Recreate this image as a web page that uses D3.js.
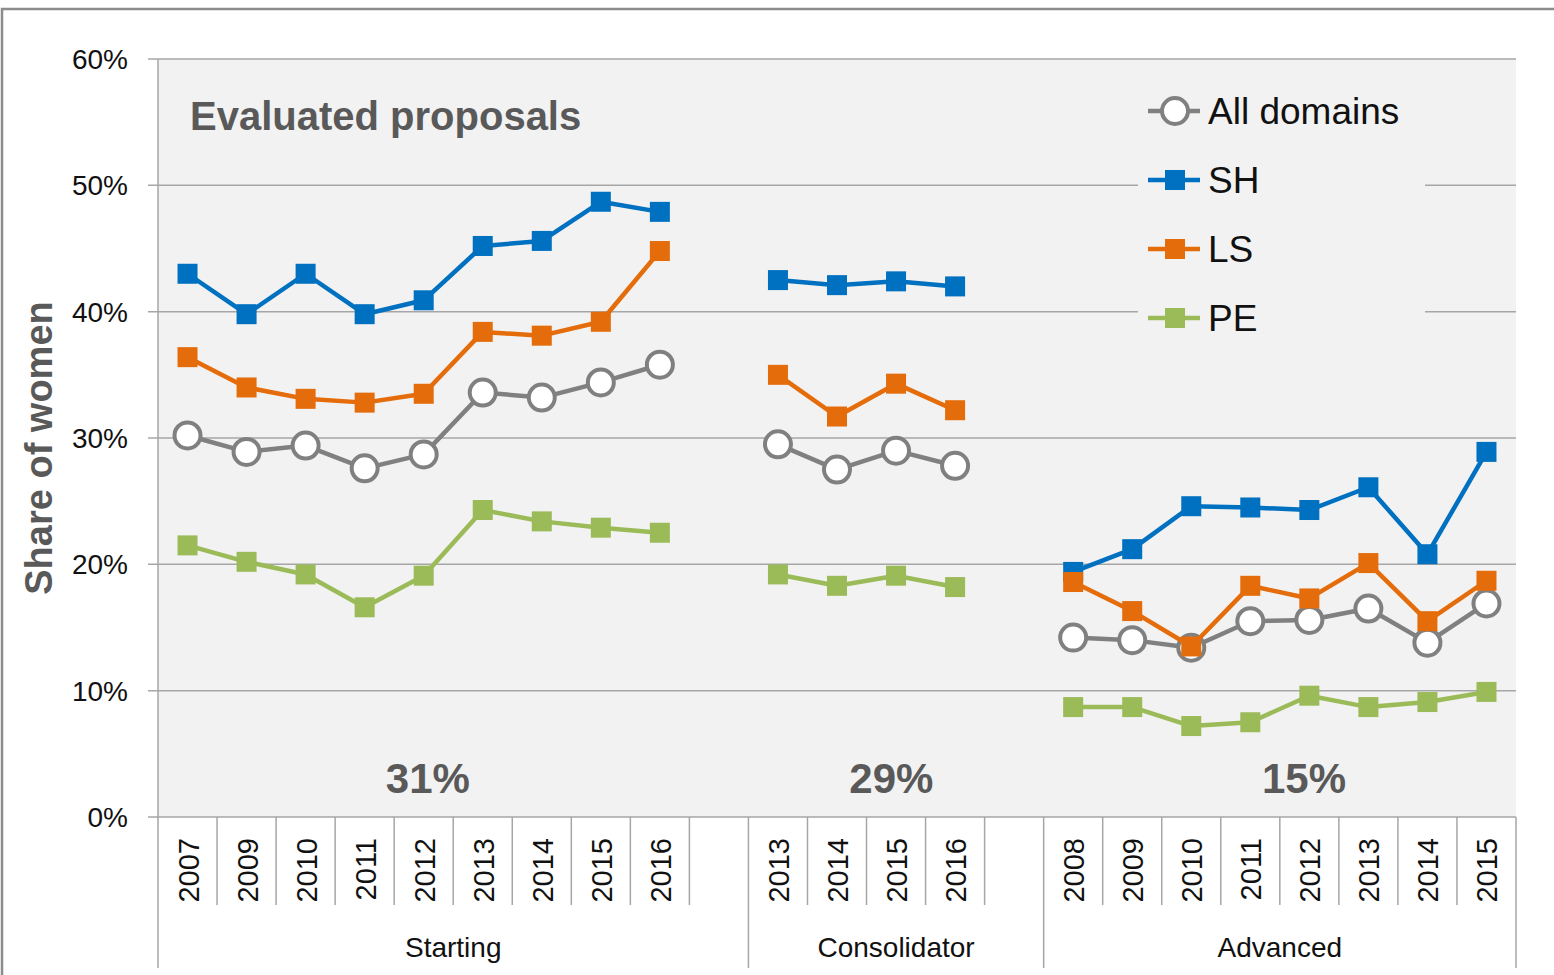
<!DOCTYPE html>
<html>
<head>
<meta charset="utf-8">
<script src="https://cdn.jsdelivr.net/npm/d3@7"></script>
<style>
  html, body { margin: 0; padding: 0; background: #fff; }
  svg { display: block; font-family: "Liberation Sans", Arial, sans-serif; }
</style>
</head>
<body>
<svg id="chart" width="1554" height="975"></svg>
<script>
// ---------- DATA ----------
const groups = ["Starting", "Consolidator", "Advanced"];
const startingYears = ["2007", "2009", "2010", "2011", "2012", "2013", "2014", "2015", "2016"];
const consolidatorYears = ["2013", "2014", "2015", "2016"];
const advancedYears = ["2008", "2009", "2010", "2011", "2012", "2013", "2014", "2015"];

const seriesNames = ["All domains", "SH", "LS", "PE"];

const allStarting = [30.2, 28.9, 29.4, 27.6, 28.7, 33.6, 33.2, 34.4, 35.8];
const shStarting  = [43.0, 39.8, 43.0, 39.8, 40.9, 45.2, 45.6, 48.7, 47.9];
const lsStarting  = [36.4, 34.0, 33.1, 32.8, 33.5, 38.4, 38.1, 39.2, 44.8];
const peStarting  = [21.5, 20.2, 19.2, 16.6, 19.1, 24.3, 23.4, 22.9, 22.5];

const allConsolidator = [29.5, 27.5, 29.0, 27.8];
const shConsolidator  = [42.5, 42.1, 42.4, 42.0];
const lsConsolidator  = [35.0, 31.7, 34.3, 32.2];
const peConsolidator  = [19.2, 18.3, 19.1, 18.2];

const allAdvanced = [14.2, 14.0, 13.4, 15.5, 15.6, 16.5, 13.8, 16.9];
const shAdvanced  = [19.4, 21.2, 24.6, 24.5, 24.3, 26.1, 20.8, 28.9];
const lsAdvanced  = [18.6, 16.3, 13.5, 18.3, 17.3, 20.1, 15.5, 18.7];
const peAdvanced  = [8.7, 8.7, 7.2, 7.5, 9.6, 8.7, 9.1, 9.9];

const groupShares = ["31%", "29%", "15%"];
const yTicks = [0, 10, 20, 30, 40, 50, 60];

// ---------- STYLE / LAYOUT ----------
const colors = { "All domains": "#808080", "SH": "#0070c0", "LS": "#e46c0a", "PE": "#9bbb59" };
const plot = { left: 158, right: 1516, top: 59, bottom: 817 };

const groupYears = [startingYears, consolidatorYears, advancedYears];
const groupValues = [
  [allStarting, shStarting, lsStarting, peStarting],
  [allConsolidator, shConsolidator, lsConsolidator, peConsolidator],
  [allAdvanced, shAdvanced, lsAdvanced, peAdvanced]
];
// each group gets a trailing empty slot except the last
const slots = [];
const groupSpans = [];
groupYears.forEach((yrs, gi) => {
  const start = slots.length;
  yrs.forEach(y => slots.push(groups[gi] + "|" + y));
  if (gi < groupYears.length - 1) slots.push(groups[gi] + "|blank");
  groupSpans.push([start, slots.length]);
});

const svg = d3.select("#chart");
const x = d3.scaleBand().domain(slots).range([plot.left, plot.right]).padding(0);
const bw = x.bandwidth();
const y = d3.scaleLinear().domain([0, 60]).range([plot.bottom, plot.top]);
const slotPos = i => plot.left + i * bw;

// outer border (top & left)
svg.append("path").attr("d", "M2,975 L2,9 L1554,9").attr("fill", "none")
  .attr("stroke", "#8c8c8c").attr("stroke-width", 2.5);

// plot background
svg.append("rect").attr("x", plot.left).attr("y", plot.top)
  .attr("width", plot.right - plot.left).attr("height", plot.bottom - plot.top)
  .attr("fill", "#f2f2f2");

// gridlines + ticks
svg.append("g").selectAll("line").data(yTicks).join("line")
  .attr("x1", plot.left - 10).attr("x2", plot.right)
  .attr("y1", d => y(d)).attr("y2", d => y(d))
  .attr("stroke", "#a6a6a6").attr("stroke-width", 1.5);

// y tick labels
svg.append("g").selectAll("text").data(yTicks).join("text")
  .attr("x", 128).attr("y", d => y(d) + 10)
  .attr("text-anchor", "end").attr("font-size", 28).attr("fill", "#111")
  .text(d => d + "%");

// y axis line
svg.append("line").attr("x1", plot.left).attr("x2", plot.left)
  .attr("y1", plot.top).attr("y2", 968).attr("stroke", "#a6a6a6").attr("stroke-width", 1.5);

// x category separators
const boundaries = d3.range(1, slots.length + 1);
const groupEdges = new Set(groupSpans.map(s => s[1]));
svg.append("g").selectAll("line").data(boundaries).join("line")
  .attr("x1", d => slotPos(d)).attr("x2", d => slotPos(d))
  .attr("y1", plot.bottom).attr("y2", d => groupEdges.has(d) ? 968 : 905)
  .attr("stroke", "#a6a6a6").attr("stroke-width", 1.5);

// year labels
const yearLabels = [];
groupYears.forEach((yrs, gi) => yrs.forEach(yr => yearLabels.push({ key: groups[gi] + "|" + yr, yr })));
svg.append("g").selectAll("text").data(yearLabels).join("text")
  .attr("transform", d => `translate(${x(d.key) + bw / 2 + 11},838) rotate(-90)`)
  .attr("text-anchor", "end").attr("font-size", 29).attr("fill", "#111")
  .text(d => d.yr);

// group labels
svg.append("g").selectAll("text").data(groups).join("text")
  .attr("x", (d, i) => (slotPos(groupSpans[i][0]) + slotPos(groupSpans[i][1])) / 2)
  .attr("y", 957).attr("text-anchor", "middle").attr("font-size", 28).attr("fill", "#111")
  .text(d => d);

// y axis title
svg.append("text").attr("transform", "translate(52,448) rotate(-90)")
  .attr("text-anchor", "middle").attr("font-size", 38).attr("font-weight", "bold")
  .attr("fill", "#595959").text("Share of women");

// title inside plot
svg.append("text").attr("x", plot.left + 32).attr("y", y(54.4))
  .attr("font-size", 40).attr("font-weight", "bold").attr("fill", "#595959")
  .text("Evaluated proposals");

// group share annotations (slot positions)
const sharePos = [4.57, 12.42, 19.41];
svg.append("g").selectAll("text").data(groupShares).join("text")
  .attr("x", (d, i) => slotPos(sharePos[i])).attr("y", y(1.9))
  .attr("text-anchor", "middle").attr("font-size", 42).attr("font-weight", "bold")
  .attr("fill", "#595959").text(d => d);

// legend box (masks gridlines)
const lg = { x: 1138, y: 72, w: 287, h: 273, row: 69 };
svg.append("rect").attr("x", lg.x).attr("y", lg.y).attr("width", lg.w).attr("height", lg.h)
  .attr("fill", "#f2f2f2");

// ---------- SERIES ----------
const line = d3.line().x(d => x(d.key) + bw / 2).y(d => y(d.v));
const sq = 20;

function drawMarker(sel, name) {
  if (name === "All domains") {
    sel.append("circle").attr("r", 13).attr("fill", "#fff")
      .attr("stroke", colors[name]).attr("stroke-width", 4);
  } else {
    sel.append("rect").attr("x", -sq / 2).attr("y", -sq / 2).attr("width", sq).attr("height", sq)
      .attr("fill", colors[name]);
  }
}

seriesNames.forEach((name, si) => {
  const g = svg.append("g");
  groupYears.forEach((yrs, gi) => {
    const pts = yrs.map((yr, i) => ({ key: groups[gi] + "|" + yr, v: groupValues[gi][si][i] }));
    g.append("path").datum(pts).attr("d", line).attr("fill", "none")
      .attr("stroke", colors[name]).attr("stroke-width", 4.5).attr("stroke-linejoin", "round");
    g.selectAll(null).data(pts).join("g")
      .attr("transform", d => `translate(${x(d.key) + bw / 2},${y(d.v)})`)
      .each(function () { drawMarker(d3.select(this), name); });
  });
});

// legend entries
seriesNames.forEach((name, i) => {
  const cy = 111 + i * lg.row;
  const g = svg.append("g");
  g.append("line").attr("x1", 1148).attr("x2", 1200).attr("y1", cy).attr("y2", cy)
    .attr("stroke", colors[name]).attr("stroke-width", 4.5);
  const m = g.append("g").attr("transform", `translate(1175,${cy})`);
  drawMarker(m, name);
  g.append("text").attr("x", 1208).attr("y", cy + 13).attr("font-size", 37).attr("fill", "#111")
    .text(name);
});
</script>
</body>
</html>
